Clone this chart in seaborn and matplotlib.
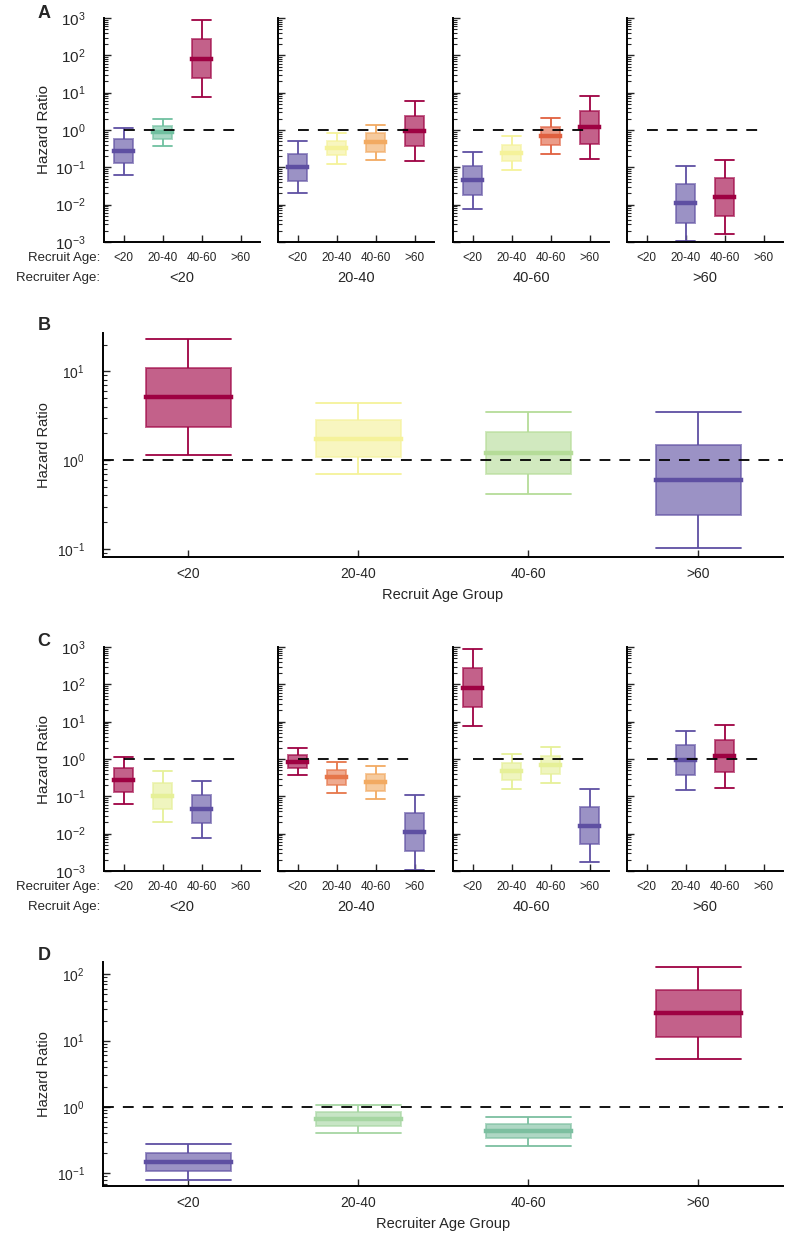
import numpy as np
import matplotlib
matplotlib.use("Agg")
import matplotlib.pyplot as plt
import seaborn as sns
from matplotlib.colors import to_rgba
from matplotlib.ticker import LogLocator, NullFormatter

# ---------------- data ----------------
ages = ["<20", "20-40", "40-60", ">60"]

# colours
PURPLE = "#5e4fa2"
MAGENTA = "#9e0142"
TEAL = "#70c0a0"
YELLOW = "#f5f29a"
PALE_YG = "#e6f098"
LIGHT_ORANGE = "#f2aa62"
ORANGE_RED = "#e0603f"
ORANGE_RED2 = "#e6764a"
LIGHT_GREEN = "#b5dc98"
LIGHT_GREEN2 = "#a6d6a2"
TEAL2 = "#7cbfa0"

# Panel A: recruiter age <20 (recruit age groups on x)
A1_groups = ["<20", "20-40", "40-60"]
A1_low = [0.064, 0.37, 7.7]
A1_q1 = [0.127, 0.56, 24.4]
A1_med = [0.27, 0.865, 82]
A1_q3 = [0.56, 1.28, 272]
A1_high = [1.16, 1.97, 865]
A1_colors = [PURPLE, TEAL, MAGENTA]

# Panel A: recruiter age 20-40
A2_groups = ["<20", "20-40", "40-60", ">60"]
A2_low = [0.0207, 0.125, 0.153, 0.147]
A2_q1 = [0.0436, 0.21, 0.262, 0.37]
A2_med = [0.101, 0.336, 0.466, 0.94]
A2_q3 = [0.226, 0.51, 0.81, 2.33]
A2_high = [0.50, 0.85, 1.39, 5.9]
A2_colors = [PURPLE, YELLOW, LIGHT_ORANGE, MAGENTA]

# Panel A: recruiter age 40-60
A3_groups = ["<20", "20-40", "40-60", ">60"]
A3_low = [0.0077, 0.086, 0.226, 0.17]
A3_q1 = [0.0187, 0.147, 0.395, 0.43]
A3_med = [0.0445, 0.246, 0.69, 1.2]
A3_q3 = [0.110, 0.404, 1.2, 3.24]
A3_high = [0.262, 0.676, 2.1, 8.36]
A3_colors = [PURPLE, YELLOW, ORANGE_RED, MAGENTA]

# Panel A: recruiter age >60
A4_groups = ["20-40", "40-60"]
A4_low = [0.00107, 0.00168]
A4_q1 = [0.0033, 0.005]
A4_med = [0.011, 0.0162]
A4_q3 = [0.0355, 0.0503]
A4_high = [0.110, 0.156]
A4_colors = [PURPLE, MAGENTA]

# Panel B: by recruit age group
B_groups = ["<20", "20-40", "40-60", ">60"]
B_low = [1.15, 0.69, 0.41, 0.103]
B_q1 = [2.37, 1.09, 0.69, 0.24]
B_med = [5.1, 1.75, 1.2, 0.6]
B_q3 = [11.0, 2.81, 2.06, 1.47]
B_high = [22.9, 4.45, 3.52, 3.46]
B_colors = [MAGENTA, YELLOW, LIGHT_GREEN, PURPLE]

# Panel C: recruit age <20 (recruiter age groups on x)
C1_groups = ["<20", "20-40", "40-60"]
C1_low = [0.0636, 0.0209, 0.0078]
C1_q1 = [0.128, 0.0449, 0.0189]
C1_med = [0.274, 0.102, 0.0458]
C1_q3 = [0.56, 0.228, 0.111]
C1_high = [1.15, 0.487, 0.263]
C1_colors = [MAGENTA, PALE_YG, PURPLE]

# Panel C: recruit age 20-40
C2_groups = ["<20", "20-40", "40-60", ">60"]
C2_low = [0.365, 0.123, 0.085, 0.00109]
C2_q1 = [0.56, 0.201, 0.142, 0.00336]
C2_med = [0.85, 0.33, 0.237, 0.0109]
C2_q3 = [1.28, 0.518, 0.396, 0.035]
C2_high = [1.97, 0.85, 0.66, 0.111]
C2_colors = [MAGENTA, ORANGE_RED2, LIGHT_ORANGE, PURPLE]

# Panel C: recruit age 40-60
C3_groups = ["<20", "20-40", "40-60", ">60"]
C3_low = [7.66, 0.154, 0.228, 0.0017]
C3_q1 = [24.2, 0.268, 0.396, 0.0052]
C3_med = [81.5, 0.467, 0.69, 0.016]
C3_q3 = [268, 0.80, 1.2, 0.0507]
C3_high = [866, 1.39, 2.1, 0.157]
C3_colors = [MAGENTA, PALE_YG, PALE_YG, PURPLE]

# Panel C: recruit age >60
C4_groups = ["20-40", "40-60"]
C4_low = [0.148, 0.17]
C4_q1 = [0.365, 0.44]
C4_med = [0.92, 1.18]
C4_q3 = [2.32, 3.16]
C4_high = [5.74, 8.15]
C4_colors = [PURPLE, MAGENTA]

# Panel D: by recruiter age group
D_groups = ["<20", "20-40", "40-60", ">60"]
D_low = [0.0805, 0.406, 0.262, 5.22]
D_q1 = [0.110, 0.517, 0.337, 11.5]
D_med = [0.150, 0.66, 0.435, 26]
D_q3 = [0.203, 0.84, 0.555, 58.4]
D_high = [0.274, 1.08, 0.707, 129]
D_colors = [PURPLE, LIGHT_GREEN2, TEAL2, MAGENTA]

subgroup_titles = ["<20", "20-40", "40-60", ">60"]

# ---------------- style ----------------
sns.set_style("ticks", {"xtick.direction": "in", "ytick.direction": "in",
                        "axes.edgecolor": "black"})
plt.rcParams["font.family"] = ["Liberation Sans", "DejaVu Sans"]
plt.rcParams["axes.linewidth"] = 1.4

W, H = 789, 1240
fig = plt.figure(figsize=(W / 100, H / 100), dpi=100)


def px_axes(left, top, width, height):
    return fig.add_axes([left / W, 1 - (top + height) / H, width / W, height / H])


def ftext(x, y, s, **kw):
    fig.text(x / W, 1 - y / H, s, **kw)


def draw_boxes(ax, groups, low, q1, med, q3, high, colors):
    for g, lo, a, m, b, hi, c in zip(groups, low, q1, med, q3, high, colors):
        face = to_rgba(c, 0.62)
        sns.boxplot(x=[g] * 5, y=[lo, a, m, b, hi], order=ages, ax=ax,
                    whis=(0, 100), width=0.5, log_scale=True, fill=True,
                    color=c, linecolor=c, showfliers=False, capwidths=0.5,
                    boxprops=dict(facecolor=face, edgecolor=face, linewidth=1.4),
                    medianprops=dict(color=c, linewidth=3.2,
                                     solid_capstyle="projecting"),
                    whiskerprops=dict(color=c, linewidth=1.3),
                    capprops=dict(color=c, linewidth=1.3))


def style_axis(ax, ylim, ylab_size, xlab_size, show_ylabels=True):
    ax.set_yscale("log")
    ax.set_ylim(*ylim)
    ax.set_xlim(-0.5, len(ages) - 0.5)
    ax.yaxis.set_major_locator(LogLocator(base=10, numticks=20))
    ax.yaxis.set_minor_locator(LogLocator(base=10, subs=np.arange(2, 10), numticks=20))
    ax.yaxis.set_minor_formatter(NullFormatter())
    for s in ["top", "right"]:
        ax.spines[s].set_visible(False)
    ax.tick_params(axis="y", which="major", length=5, width=1, labelsize=ylab_size,
                   pad=13, labelleft=show_ylabels)
    ax.tick_params(axis="y", which="minor", length=3, width=0.8)
    ax.tick_params(axis="x", which="major", length=5, width=1, labelsize=xlab_size,
                   pad=7)
    ax.set_xlabel("")
    ax.set_ylabel("")


# ---------------- Panel A and C ----------------
lefts = [104, 278, 453, 627]
sub_w, sub_h = 156, 224

panelA = [
    (A1_groups, A1_low, A1_q1, A1_med, A1_q3, A1_high, A1_colors),
    (A2_groups, A2_low, A2_q1, A2_med, A2_q3, A2_high, A2_colors),
    (A3_groups, A3_low, A3_q1, A3_med, A3_q3, A3_high, A3_colors),
    (A4_groups, A4_low, A4_q1, A4_med, A4_q3, A4_high, A4_colors),
]
panelC = [
    (C1_groups, C1_low, C1_q1, C1_med, C1_q3, C1_high, C1_colors),
    (C2_groups, C2_low, C2_q1, C2_med, C2_q3, C2_high, C2_colors),
    (C3_groups, C3_low, C3_q1, C3_med, C3_q3, C3_high, C3_colors),
    (C4_groups, C4_low, C4_q1, C4_med, C4_q3, C4_high, C4_colors),
]

for top, panel, row1, row2, letter, ly in [
        (18, panelA, "Recruit Age:", "Recruiter Age:", "A", 13),
        (647, panelC, "Recruiter Age:", "Recruit Age:", "C", 642)]:
    for i, (left, spec) in enumerate(zip(lefts, panel)):
        ax = px_axes(left, top, sub_w, sub_h)
        draw_boxes(ax, *spec)
        ax.hlines(1, 0, len(ages) - 1, colors="black", linestyles=(0, (6, 5)),
                  linewidth=1.3, zorder=6)
        style_axis(ax, (1e-3, 1e3), 11, 8.5, show_ylabels=(i == 0))
        if i == 0:
            ax.set_ylabel("Hazard Ratio", fontsize=11, va="center")
            ax.yaxis.set_label_coords((44 - left) / sub_w, 0.5)
        ftext(left + sub_w / 2, top + sub_h + 36, subgroup_titles[i],
              ha="center", va="center", fontsize=10.5)
    bottom = top + sub_h
    ftext(100, bottom + 16, row1, ha="right", va="center", fontsize=9.5)
    ftext(100, bottom + 36, row2, ha="right", va="center", fontsize=9.5)
    ftext(44, ly, letter, ha="center", va="center", fontsize=13, fontweight="bold")

# ---------------- Panel B and D ----------------
for top, spec, ylim, xlab, letter, ly in [
        (333, (B_groups, B_low, B_q1, B_med, B_q3, B_high, B_colors), (0.081, 27),
         "Recruit Age Group", "B", 326),
        (962, (D_groups, D_low, D_q1, D_med, D_q3, D_high, D_colors), (0.0647, 152),
         "Recruiter Age Group", "D", 955)]:
    ax = px_axes(103, top, 680, 224)
    draw_boxes(ax, *spec)
    ax.axhline(1, color="black", linestyle=(0, (6, 5)), linewidth=1.3, zorder=6)
    style_axis(ax, ylim, 10, 10)
    ax.set_xlabel(xlab, fontsize=10.5, labelpad=5)
    ax.set_ylabel("Hazard Ratio", fontsize=10.5, va="center")
    ax.yaxis.set_label_coords((44 - 103) / 680, 0.5)
    ftext(44, ly, letter, ha="center", va="center", fontsize=13, fontweight="bold")

fig.savefig("out.png", dpi=100)
